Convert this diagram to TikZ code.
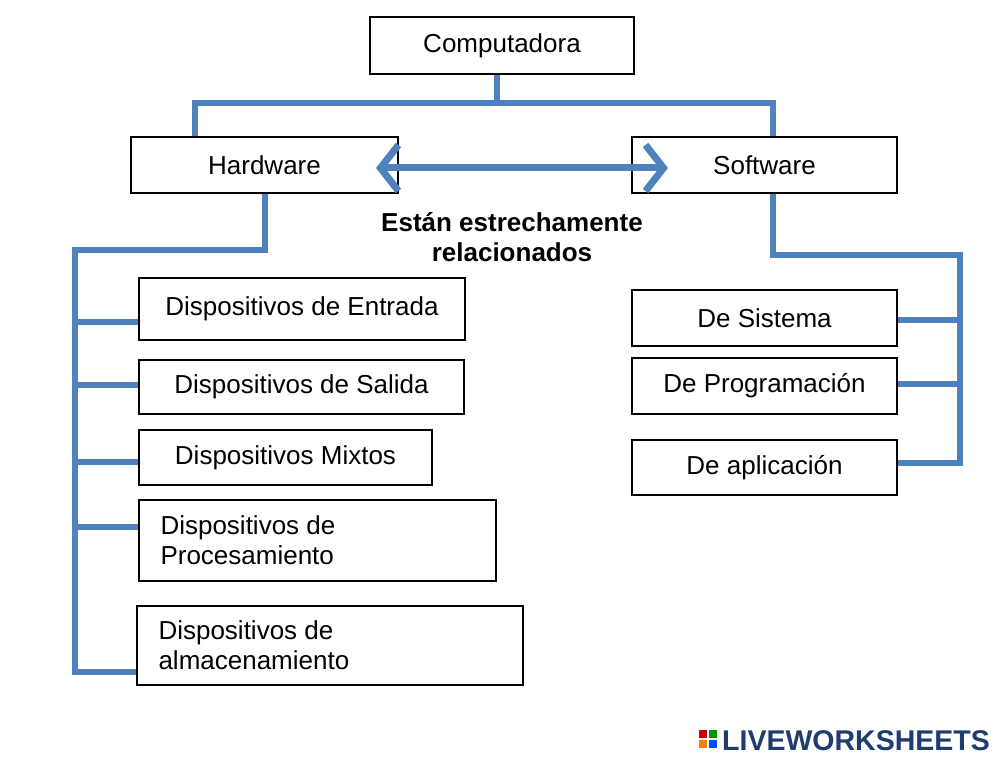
\documentclass[tikz,border=0pt]{standalone}
\usepackage{fontspec}
\setmainfont{Liberation Sans}
\usetikzlibrary{arrows.meta}
\definecolor{lb}{RGB}{79,129,189}
\definecolor{lw}{RGB}{30,60,110}
\begin{document}
\begin{tikzpicture}[x=1pt,y=-1pt,
  bx/.style={draw,line width=2.5pt,minimum width=0pt,inner sep=0pt},
  ln/.style={draw=lb,line width=6pt},
  t/.style={font=\fontsize{26}{30}\selectfont}]
\useasboundingbox[fill=white] (0,0) rectangle (1000,762);
\draw[ln] (497,74) -- (497,103);
\draw[ln] (195,137) -- (195,103) -- (773,103) -- (773,137);
\draw[ln] (265,193) -- (265,250) -- (75,250) -- (75,672) -- (137,672);
\foreach \y in {322,385,462,527} \draw[ln] (75,\y) -- (139,\y);
\draw[ln] (773,193) -- (773,255) -- (960,255) -- (960,463) -- (897,463);
\foreach \y in {320,384} \draw[ln] (897,\y) -- (960,\y);
\node[bx,minimum width=264pt,minimum height=57pt,t] (c) at (502,45.5) {Computadora};
\node[bx,minimum width=267pt,minimum height=56pt,t] (h) at (264.5,165) {Hardware};
\node[bx,minimum width=265pt,minimum height=56pt,t,fill=white] (s) at (764.5,165) {Software};
\draw[lb,line width=7pt,{Straight Barb[length=18pt,width=46pt,line width=7pt]}-{Straight Barb[length=18pt,width=46pt,line width=7pt]}] (376,168) -- (668,168);
\node[font=\bfseries\fontsize{26}{30}\selectfont,align=center] (r) at (512,237) {Están estrechamente\\relacionados};
\node[bx,minimum width=326pt,minimum height=62pt,t] (e1) at (302,309) {Dispositivos de Entrada};
\node[bx,minimum width=325pt,minimum height=54pt,t] (e2) at (301.5,387) {Dispositivos de Salida};
\node[bx,minimum width=293pt,minimum height=55pt,t] (e3) at (285.5,457.5) {Dispositivos Mixtos};
\draw[line width=2.5pt] (139,500) rectangle (496,581);
\node[t,anchor=west,align=left] (e4) at (157,540.5) {Dispositivos de\\Procesamiento};
\draw[line width=2.5pt] (137,606) rectangle (523,685);
\node[t,anchor=west,align=left] (e5) at (155,645.5) {Dispositivos de\\almacenamiento};
\node[bx,minimum width=265pt,minimum height=56pt,t] (s1) at (764.5,318) {De Sistema};
\node[bx,minimum width=265pt,minimum height=56pt,t] (s2) at (764.5,386) {De Programación};
\node[bx,minimum width=265pt,minimum height=55pt,t] (s3) at (764.5,467.5) {De aplicación};
\fill[red!80!black] (699,730) rectangle (707,738);
\fill[green!60!black] (709,730) rectangle (717,738);
\fill[orange] (699,740) rectangle (707,748);
\fill[blue!70!cyan] (709,740) rectangle (717,748);
\node[anchor=west,text=lw,font=\bfseries\fontsize{28.5}{32}\selectfont,inner sep=0pt] (logo) at (722,741) {LIVEWORKSHEETS};
\end{tikzpicture}
\end{document}
